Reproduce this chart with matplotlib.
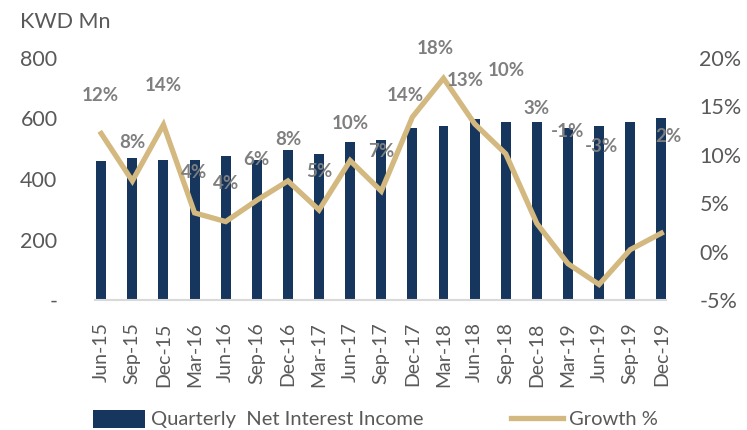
import matplotlib
matplotlib.use("Agg")
import matplotlib.pyplot as plt
from matplotlib.patches import Patch
from matplotlib.lines import Line2D

plt.rcParams['font.family'] = ['Lato', 'DejaVu Sans']

# ---- data ----
quarters = ["Jun-15", "Sep-15", "Dec-15", "Mar-16", "Jun-16", "Sep-16", "Dec-16",
            "Mar-17", "Jun-17", "Sep-17", "Dec-17", "Mar-18", "Jun-18", "Sep-18",
            "Dec-18", "Mar-19", "Jun-19", "Sep-19", "Dec-19"]
nii = [458, 470, 463, 463, 476, 464, 497, 483, 522, 530, 570, 576, 598, 589,
       589, 570, 576, 589, 602]
growth = [12.2, 7.3, 13.1, 4.0, 3.1, 5.3, 7.3, 4.3, 9.4, 6.25, 13.9, 17.9, 13.2,
          10.1, 2.9, -1.25, -3.4, 0.2, 1.9]
growth_labels = ["12%", "8%", "14%", "4%", "4%", "6%", "8%", "5%", "10%", "7%",
                 "14%", "18%", "13%", "10%", "3%", "-1%", "-3%", None, "2%"]
left_ticks = [0, 200, 400, 600, 800]
left_ticklabels = ["-", "200", "400", "600", "800"]
right_ticks = [-5, 0, 5, 10, 15, 20]
right_ticklabels = ["-5%", "0%", "5%", "10%", "15%", "20%"]

# ---- style ----
label_offsets_px = [(-1, 38), (0, 38), (0, 39), (0, 40), (0, 38), (0, 41), (0, 41),
                    (0, 38), (0, 37), (0, 40), (-7, 22), (-8, 30), (-9, 43),
                    (1, 83), (0, 115), (0, 132), (2, 138), (0, 0), (7, 97)]
NAVY = "#17365d"
TAN = "#d3b87f"
TICK = "#595959"
LABEL = "#7f7f7f"

fig = plt.figure(figsize=(7.47, 4.30), dpi=100)
ax = fig.add_axes([95/747, 1 - 300/430, (666-95)/747, (300-58)/430])
ax2 = ax.twinx()

x = list(range(len(quarters)))
ax.bar(x, nii, width=0.32, color=NAVY, zorder=2)
ax.set_ylim(0, 800)
ax.set_xlim(-0.2, 18.15)
ax.set_yticks(left_ticks)
ax.set_yticklabels(left_ticklabels)
ax.set_xticks(x)
ax.set_xticklabels(quarters, rotation=90, va='top', ha='center')
ax.tick_params(axis='y', length=0, pad=27, labelsize=15.5, labelcolor=TICK)
ax.tick_params(axis='x', length=0, pad=16, labelsize=14, labelcolor=TICK)
for s in ['top', 'right', 'left']:
    ax.spines[s].set_visible(False)
ax.spines['bottom'].set_color('#d9d9d9')
ax.spines['bottom'].set_linewidth(1.5)

ax2.plot(x, growth, color=TAN, linewidth=3.8, solid_joinstyle='miter', zorder=3)
ax2.set_ylim(-5, 20)
ax2.set_yticks(right_ticks)
ax2.set_yticklabels(right_ticklabels)
ax2.tick_params(axis='y', length=0, pad=24, labelsize=15.5, labelcolor=TICK)
for s in ax2.spines.values():
    s.set_visible(False)

for xi, g, lab, (dx, dy) in zip(x, growth, growth_labels, label_offsets_px):
    if lab is None:
        continue
    ax2.annotate(lab, (xi, g), xytext=(dx * 0.72, dy * 0.72), textcoords='offset points',
                 ha='center', va='center', fontsize=13.5, fontweight='bold',
                 color=LABEL, zorder=4)

fig.text(20/747, 1 - 22/430, "KWD Mn", fontsize=15.5, color=TICK, ha='left', va='center')

handles = [Patch(facecolor=NAVY, edgecolor='none'),
           Line2D([0], [0], color=TAN, linewidth=3.8)]
fig.legend(handles, ["Quarterly  Net Interest Income", "Growth %"],
           loc='center left', bbox_to_anchor=(93/747, 1 - 419/430), ncol=2,
           frameon=False, fontsize=14.5, labelcolor=TICK, handlelength=2.6,
           handleheight=1.0, handletextpad=0.3, columnspacing=4.3,
           borderaxespad=0, borderpad=0)

fig.savefig("out.png", dpi=100)
